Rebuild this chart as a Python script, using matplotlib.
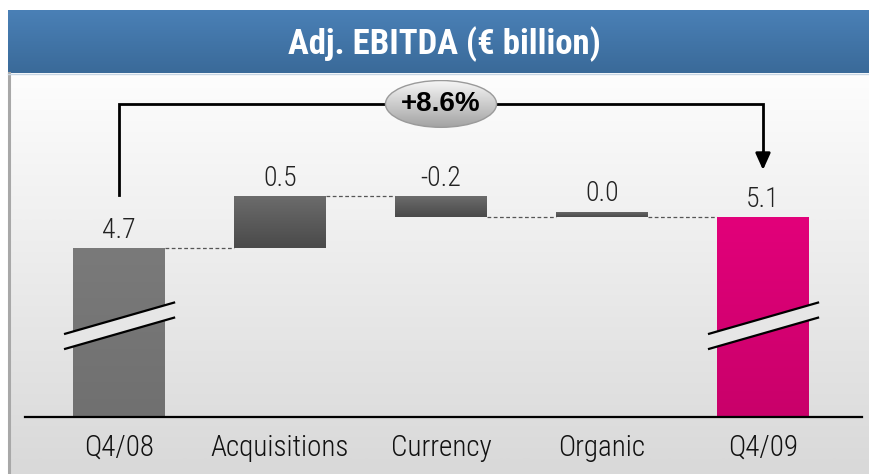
import matplotlib
matplotlib.use("Agg")
import matplotlib.pyplot as plt
import numpy as np
from matplotlib import font_manager
from matplotlib.colors import LinearSegmentedColormap
from matplotlib.patches import Rectangle, Ellipse, Polygon


def pick_font(names):
    for name in names:
        try:
            font_manager.findfont(name, fallback_to_default=False)
            return name
        except Exception:
            continue
    return "DejaVu Sans"


NARROW = pick_font(["Liberation Sans Narrow", "Arial Narrow", "Roboto Condensed",
                    "Liberation Sans"])
plt.rcParams["font.family"] = [NARROW, "DejaVu Sans"]

# data
categories = ["Q4/08", "Acquisitions", "Currency", "Organic", "Q4/09"]
start_value = 4.7
deltas = [0.5, -0.2, 0.0]
end_value = 5.1
value_labels = ["4.7", "0.5", "-0.2", "0.0", "5.1"]
change_label = "+8.6%"
title = "Adj. EBITDA (\u20ac billion)"

W, H = 870, 474
fig = plt.figure(figsize=(W / 100, H / 100), dpi=100)


def gradient_fill(ax, patch, top_color, bottom_color, extent):
    cmap = LinearSegmentedColormap.from_list("g", [top_color, bottom_color])
    grad = np.linspace(0, 1, 64).reshape(-1, 1)
    im = ax.imshow(grad, cmap=cmap, extent=extent, aspect="auto",
                   origin="upper", zorder=patch.get_zorder(), interpolation="bicubic")
    im.set_clip_path(patch)
    return im


# background panel and title bar (pixel coordinates)
bg = fig.add_axes([0, 0, 1, 1])
bg.axis("off")
panel = Rectangle((9, 73), W, H, facecolor="none", edgecolor="none")
bg.add_patch(panel)
gradient_fill(bg, panel, "#fdfdfd", "#d9d9d9", [9, W, H, 73])
bg.plot([9, 9], [73, H], color="#a8a8a8", lw=2.2)
bar_head = Rectangle((8, 10), W, 63, facecolor="none", edgecolor="none")
bg.add_patch(bar_head)
gradient_fill(bg, bar_head, "#4a80b6", "#3a6a99", [8, W, 73, 10])
bg.plot([8, W], [73.5, 73.5], color="#c8d6e4", lw=1)
bg.text(444, 44, title, color="white", fontsize=25, fontweight="bold",
        ha="center", va="center")
bg.set_xlim(0, W)
bg.set_ylim(H, 0)

# chart axes
ax = fig.add_axes([25 / W, 57 / H, 837 / W, 337 / H])
ax.patch.set_alpha(0)
ybot, ytop = 3.075, 6.315
for s in ["top", "right", "left"]:
    ax.spines[s].set_visible(False)
ax.spines["bottom"].set_linewidth(1.6)
ax.spines["bottom"].set_color("black")
ax.set_yticks([])
x = np.arange(len(categories))
ax.set_xticks(x)
ax.set_xticklabels(categories, fontsize=21, color="#111111", fontweight="light")
ax.tick_params(axis="x", length=0, pad=12)

bw = 0.57
levels = [start_value]
for d in deltas:
    levels.append(levels[-1] + d)
final_level = levels[-1]

bar_specs = []
bar_specs.append((0, ybot, start_value, "#7a7a7a", "#707070"))
for i, d in enumerate(deltas):
    lo = min(levels[i], levels[i + 1])
    hi = max(levels[i], levels[i + 1])
    if hi - lo < 0.05:
        hi = lo + 0.05
    bar_specs.append((i + 1, lo, hi, "#6c6c6c", "#4a4a4a"))
bar_specs.append((4, ybot, final_level, "#e2007a", "#c9006a"))

tops = []
for xi, lo, hi, c1, c2 in bar_specs:
    rect = Rectangle((xi - bw / 2, lo), bw, hi - lo, facecolor="none",
                     edgecolor="none", zorder=2)
    ax.add_patch(rect)
    gradient_fill(ax, rect, c1, c2, [xi - bw / 2, xi + bw / 2, lo, hi])
    tops.append(hi)

for xi, top, lab in zip(x, tops, value_labels):
    ax.annotate(lab, (xi, top), xytext=(0, 3), textcoords="offset points",
                ha="center", va="bottom", fontsize=20, color="#222222",
                fontweight="light")

# dashed connectors
for i, lv in enumerate(levels):
    ax.plot([i + bw / 2, i + 1 - bw / 2], [lv, lv], color="#555555",
            lw=0.9, linestyle=(0, (3, 2)), zorder=1)

# axis break marks on the total bars
for xi in (0, 4):
    xa, xb = xi - 0.335, xi + 0.342
    ya = ybot + 0.80
    yb = ya + 0.30
    gap = 0.145
    gap_poly = Polygon([[xa, ya], [xb, yb], [xb, yb - gap], [xa, ya - gap]],
                       closed=True, facecolor="#e6e6e6", edgecolor="none", zorder=3)
    ax.add_patch(gap_poly)
    ax.plot([xa, xb], [ya, yb], color="black", lw=1.6, zorder=4)
    ax.plot([xa, xb], [ya - gap, yb - gap], color="black", lw=1.6, zorder=4)

# bracket with arrow
bracket_y = start_value + 1.385
ax.plot([0, 0, 4, 4], [tops[0] + 0.51, bracket_y, bracket_y, final_level + 0.6],
        color="black", lw=2, solid_joinstyle="miter", zorder=3)
ax.annotate("", xy=(4, final_level + 0.45), xytext=(4, final_level + 0.62),
            arrowprops=dict(arrowstyle="-|>,head_length=1.0,head_width=0.45",
                            color="black", lw=2, shrinkA=0, shrinkB=0), zorder=3)

ow, oh = 0.69, 0.45
oval = Ellipse((2, bracket_y), ow, oh, facecolor="none", edgecolor="none", zorder=5)
ax.add_patch(oval)
gradient_fill(ax, oval, "#f6f6f6", "#a4a4a4",
              [2 - ow / 2, 2 + ow / 2, bracket_y - oh / 2, bracket_y + oh / 2])
ax.add_patch(Ellipse((2, bracket_y), ow, oh, facecolor="none",
                     edgecolor="#9a9a9a", lw=1.0, zorder=6))
ax.text(2, bracket_y, change_label, ha="center", va="center", fontsize=20,
        fontweight="bold", family=["Liberation Sans", "DejaVu Sans"], zorder=7)

ax.set_xlim(-0.584, 4.615)
ax.set_ylim(ybot, ytop)

fig.savefig("out.png", dpi=100)
